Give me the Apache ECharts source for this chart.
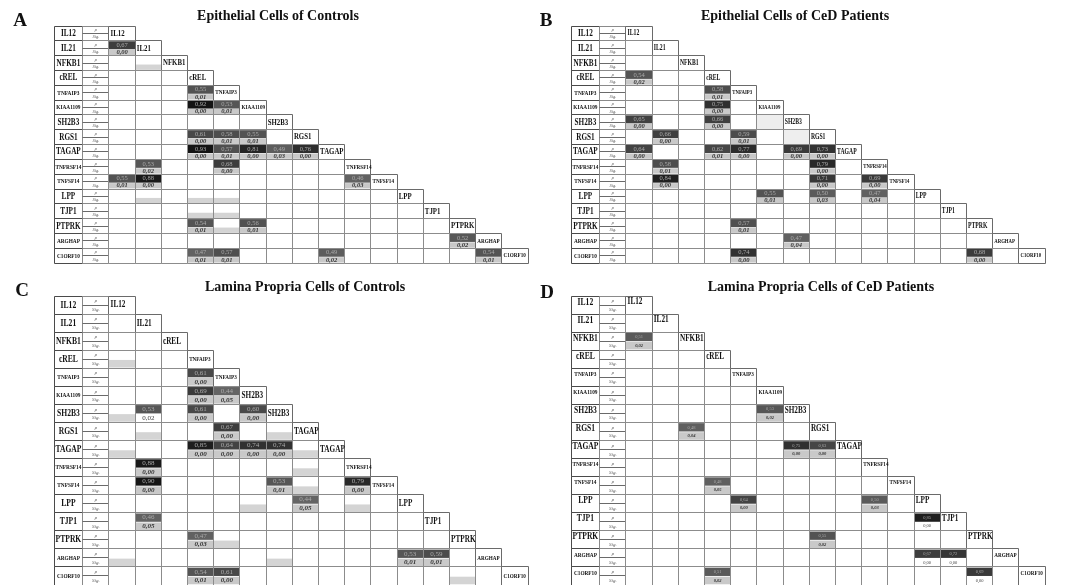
<!DOCTYPE html>
<html><head><meta charset="utf-8">
<script src="https://cdn.jsdelivr.net/npm/echarts@6/dist/echarts.min.js"></script>
<style>html,body{margin:0;padding:0;background:#fff}#c{width:1072px;height:585px}</style>
</head><body><div id="c"></div>
<script>
// ---------------- DATA ----------------
const genes = ['IL12','IL21','NFKB1','cREL','TNFAIP3','KIAA1109','SH2B3','RGS1','TAGAP','TNFRSF14','TNFSF14','LPP','TJP1','PTPRK','ARGHAP','C1ORF10'];
const diagLabelsC = ['IL12','IL21','cREL','TNFAIP3','TNFAIP3','SH2B3','SH2B3','TAGAP','TAGAP','TNFRSF14','TNFSF14','LPP','TJP1','PTPRK','ARGHAP','C1ORF10'];
const panelLetters = ['A','B','C','D'];
const panelTitles = ['Epithelial Cells of Controls','Epithelial Cells of CeD Patients','Lamina Propria Cells of Controls','Lamina Propria Cells of CeD Patients'];

// [row gene index, column gene index, rho, significance]
const valuesA = [
  [1,0,0.67,0.00],
  [4,3,0.55,0.01],
  [5,3,0.92,0.00],[5,4,0.53,0.01],
  [7,3,0.61,0.00],[7,4,0.58,0.01],[7,5,0.55,0.01],
  [8,3,0.93,0.00],[8,4,0.57,0.01],[8,5,0.81,0.00],[8,6,0.49,0.03],[8,7,0.76,0.00],
  [9,1,0.53,0.02],[9,4,0.68,0.00],
  [10,0,0.55,0.01],[10,1,0.88,0.00],[10,9,0.46,0.03],
  [13,3,0.54,0.01],[13,5,0.56,0.01],
  [14,13,0.52,0.02],
  [15,3,0.47,0.01],[15,4,0.57,0.01],[15,8,0.49,0.02],[15,14,0.54,0.01]
];
const greyA = [[2,1],[11,1],[11,3],[11,4],[12,3],[12,4],[13,4]];

const valuesB = [
  [3,0,0.54,0.02],
  [4,3,0.58,0.01],
  [5,3,0.75,0.00],
  [6,0,0.65,0.00],[6,3,0.66,0.00],
  [7,1,0.66,0.00],[7,4,0.59,0.01],
  [8,0,0.64,0.00],[8,3,0.62,0.01],[8,4,0.77,0.00],[8,6,0.69,0.00],[8,7,0.73,0.00],
  [9,1,0.58,0.01],[9,7,0.79,0.00],
  [10,1,0.84,0.00],[10,7,0.71,0.00],[10,9,0.69,0.00],
  [11,5,0.55,0.01],[11,7,0.50,0.03],[11,9,0.47,0.04],
  [13,4,0.57,0.01],
  [14,6,0.47,0.04],
  [15,4,0.74,0.00],[15,13,0.68,0.00]
];
const faintB = [[6,5],[7,6]];

const valuesC = [
  [4,3,0.61,0.00],
  [5,3,0.69,0.00],[5,4,0.44,0.05],
  [6,1,0.53,0.02],[6,3,0.61,0.00],[6,5,0.60,0.00],
  [7,4,0.67,0.00],
  [8,3,0.85,0.00],[8,4,0.64,0.00],[8,5,0.74,0.00],[8,6,0.74,0.00],
  [9,1,0.88,0.00],
  [10,1,0.90,0.00],[10,6,0.53,0.01],[10,9,0.79,0.00],
  [11,7,0.44,0.05],
  [12,1,0.46,0.05],
  [13,3,0.47,0.03],
  [14,11,0.53,0.01],[14,12,0.59,0.01],
  [15,3,0.54,0.01],[15,4,0.61,0.00]
];
const greyC = [[3,0],[6,0],[7,1],[7,6],[8,0],[8,7],[9,7],[10,7],[11,5],[11,9],[13,4],[14,0],[14,6],[15,13]];
const plainSigC = [[6,1]];

const valuesD = [
  [2,0,0.51,0.02],
  [6,5,0.53,0.02],
  [7,2,0.48,0.04],
  [8,6,0.75,0.00],[8,7,0.63,0.00],
  [10,3,0.48,0.05],
  [11,4,0.64,0.00],[11,9,0.50,0.03],
  [12,11,0.85,0.00],
  [13,7,0.55,0.02],
  [14,11,0.67,0.00],[14,12,0.72,0.00],
  [15,3,0.51,0.02],[15,13,0.69,0.00]
];
const plainSigD = [[12,11],[14,11],[14,12],[15,13]];

// ---------------- LAYOUT / STYLE ----------------
const FONT = '"Liberation Serif", "DejaVu Serif", serif';
const XMIN = -2.1, NCOL = 16;
const SX = 0.76; // horizontal condensation of gene labels
const panels = [
  {rows: genes, diag: genes, values: valuesA, grey: greyA, faint: [], plain: [],
   left: 54, top: 26, cw: 26.19, ch: 14.82, v: 'small', rowBig: 9.5, diagBig: 9, diagSmall: 6.8, valFont: 6.5},
  {rows: genes, diag: genes, values: valuesB, grey: [], faint: faintB, plain: [],
   left: 571, top: 26, cw: 26.19, ch: 14.82, v: 'small', rowBig: 9.5, diagBig: 7.5, diagSmall: 6.3, valFont: 6.5},
  {rows: genes, diag: diagLabelsC, values: valuesC, grey: greyC, faint: [], plain: plainSigC,
   left: 54, top: 296, cw: 26.19, ch: 18.2, v: 'big', rowBig: 10, diagBig: 9.5, diagSmall: 6.8, valFont: 7},
  {rows: genes, diag: genes, values: valuesD, grey: [], faint: [], plain: plainSigD,
   left: 571, top: 296, cw: 26.19, ch: 18.2, v: 'D', rowBig: 10, diagBig: 9.5, diagSmall: 6.8, valFont: 4.5}
];

function shade(r){
  const l = Math.max(20, Math.min(100, Math.round(100 - (r - 0.45) * 175)));
  return 'rgb(' + l + ',' + l + ',' + l + ')';
}
function fmt(x){ return x.toFixed(2).replace('.', ','); }
function crisp(v){ return Math.round(v - 0.5) + 0.5; }

function makeRect(api, x0, y0, x1, y1, style, doCrisp){
  const a = api.coord([x0, y0]), b = api.coord([x1, y1]);
  let ax = a[0], ay = a[1], bx = b[0], by = b[1];
  if (doCrisp){ ax = crisp(ax); ay = crisp(ay); bx = crisp(bx); by = crisp(by); }
  return {type: 'rect', shape: {x: ax, y: ay, width: bx - ax, height: by - ay}, style: style};
}
function makeText(api, x, y, text, font, fill, align, sx){
  const p = api.coord([x, y]);
  return {type: 'text', x: p[0], y: p[1], scaleX: sx || 1, style: {text: text, font: font, fill: fill, align: align || 'center', verticalAlign: 'middle'}};
}

function structRender(P){
  return function(params, api){
    const i = api.value(0);
    const ch = [];
    const name = P.rows[i];
    const dname = P.diag[i];
    const rowSize = name.length >= 6 ? 7 : P.rowBig;
    const diagSize = dname.length >= 6 ? P.diagSmall : P.diagBig;
    const D = P.v === 'D';
    // label box
    ch.push(makeRect(api, XMIN, i, -1, i + 1, {fill: 'none', stroke: '#4a4a4a', lineWidth: 1}, true));
    ch.push(makeText(api, (XMIN - 1) / 2, D ? i + 0.33 : i + 0.5, name, 'bold ' + rowSize + 'px ' + FONT, '#111', 'center', SX));
    // rho / Sig box
    ch.push(makeRect(api, -1, i, 0, i + 1, {fill: 'none', stroke: '#8a8a8a', lineWidth: 1}, true));
    const m1 = api.coord([-1, i + 0.5]), m2 = api.coord([0, i + 0.5]);
    ch.push({type: 'line', shape: {x1: crisp(m1[0]), y1: crisp(m1[1]), x2: crisp(m2[0]), y2: crisp(m2[1])}, style: {stroke: '#6a6a6a', lineWidth: 1}});
    const sf = P.v === 'small' ? 4.5 : 5;
    ch.push(makeText(api, -0.5, i + 0.27, 'ρ', 'italic ' + sf + 'px ' + FONT, '#555'));
    ch.push(makeText(api, -0.5, i + 0.76, 'Sig.', 'italic ' + sf + 'px ' + FONT, '#555'));
    // cells below diagonal
    for (let j = 0; j < i; j++){
      ch.push(makeRect(api, j, i, j + 1, i + 1, {fill: 'none', stroke: '#8c8c8c', lineWidth: 1}, true));
    }
    // diagonal label cell
    ch.push(makeRect(api, i, i, i + 1, i + 1, {fill: 'none', stroke: '#6a6a6a', lineWidth: 1}, true));
    ch.push(makeText(api, i + 0.06, D ? i + 0.33 : i + 0.5, dname, 'bold ' + diagSize + 'px ' + FONT, '#111', 'left', SX));
    return {type: 'group', children: ch};
  };
}

function isIn(list, r, c){ return list.some(e => e[0] === r && e[1] === c); }

function valueRender(P){
  const big = P.v !== 'small';
  const t0 = big ? 0.04 : 0.03, t1 = big ? 0.5 : 0.57, b0 = big ? 0.54 : 0.6, b1 = 0.96;
  return function(params, api){
    const r = api.value(0), c = api.value(1), rho = api.value(2), sig = api.value(3);
    const plain = isIn(P.plain, r, c);
    const ch = [];
    ch.push(makeRect(api, c, r + t0, c + 1, r + t1, {fill: shade(rho)}));
    if (!plain) ch.push(makeRect(api, c, r + b0, c + 1, r + b1, {fill: '#c9c9c9'}));
    ch.push(makeText(api, c + 0.5, r + (t0 + t1) / 2, fmt(rho), P.valFont + 'px ' + FONT, '#a9a9a9'));
    ch.push(makeText(api, c + 0.5, r + (b0 + b1) / 2, fmt(sig), (plain ? '' : 'italic bold ') + P.valFont + 'px ' + FONT, plain ? '#444' : '#333'));
    return {type: 'group', children: ch};
  };
}

function greyRender(P){
  const big = P.v !== 'small';
  const b0 = big ? 0.54 : 0.6, b1 = 0.96;
  return function(params, api){
    const r = api.value(0), c = api.value(1);
    return makeRect(api, c, r + b0, c + 1, r + b1, {fill: '#d4d4d4'});
  };
}
function faintRender(P){
  return function(params, api){
    const r = api.value(0), c = api.value(1);
    return makeRect(api, c, r, c + 1, r + 1, {fill: '#eeeeee'});
  };
}

const grids = [], xAxes = [], yAxes = [], series = [];
panels.forEach((P, k) => {
  grids.push({left: P.left, top: P.top, width: (NCOL - XMIN) * P.cw, height: 16 * P.ch, containLabel: false});
  xAxes.push({type: 'value', gridIndex: k, min: XMIN, max: NCOL, show: false});
  yAxes.push({type: 'value', gridIndex: k, min: 0, max: 16, inverse: true, show: false});
  const base = {type: 'custom', xAxisIndex: k, yAxisIndex: k, silent: true, clip: false, encode: {x: 1, y: 0}};
  series.push(Object.assign({}, base, {z: 1, renderItem: faintRender(P), data: P.faint}));
  series.push(Object.assign({}, base, {z: 2, renderItem: greyRender(P), data: P.grey}));
  series.push(Object.assign({}, base, {z: 3, renderItem: valueRender(P), data: P.values}));
  series.push(Object.assign({}, base, {z: 4, renderItem: structRender(P), data: P.rows.map((g, i) => [i, i])}));
});

const headPos = [
  {lx: 20, ly: 21, tx: 278, ty: 16},
  {lx: 546, ly: 21, tx: 795, ty: 16},
  {lx: 22, ly: 291, tx: 305, ty: 287},
  {lx: 547, ly: 293, tx: 821, ty: 287}
];
const graphic = [];
headPos.forEach((h, k) => {
  graphic.push({type: 'text', x: h.lx, y: h.ly, style: {text: panelLetters[k], font: 'bold 19px ' + FONT, fill: '#111', align: 'center', verticalAlign: 'middle'}});
  graphic.push({type: 'text', x: h.tx, y: h.ty, style: {text: panelTitles[k], font: 'bold 14px ' + FONT, fill: '#111', align: 'center', verticalAlign: 'middle'}});
});

const chart = echarts.init(document.getElementById('c'), null, {renderer: 'canvas'});
chart.setOption({
  animation: false,
  backgroundColor: '#ffffff',
  grid: grids, xAxis: xAxes, yAxis: yAxes, series: series, graphic: graphic
});
</script></body></html>
